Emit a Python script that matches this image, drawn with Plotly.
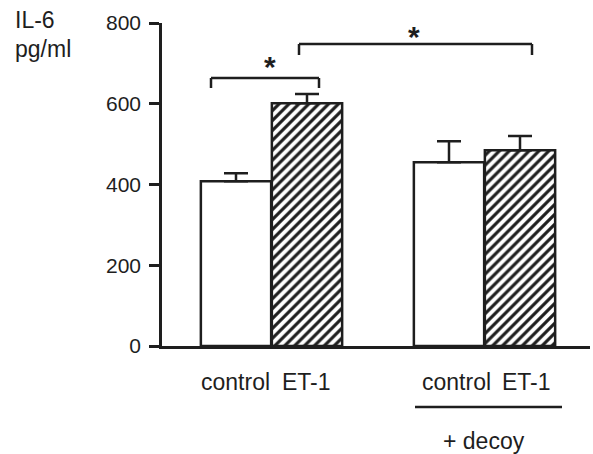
import plotly.graph_objects as go

# ---- data ----
categories = ["control", "ET-1", "control", "ET-1"]
positions = [0, 1, 3, 4]
values = [408, 601, 455, 485]
errors = [20, 23, 52, 35]
hatched = [False, True, False, True]
y_ticks = [0, 200, 400, 600, 800]

W, H = 593, 454
L, R, T, B = 162, 3, 23, 108
PW, PH = W - L - R, H - T - B
FONT = "Liberation Sans, Arial, Helvetica, sans-serif"
INK = "#1e1e1e"

def pxx(x):
    return (x - L) / PW

def pxy(y):
    return (H - B - y) / PH

fig = go.Figure()
for i in range(len(values)):
    fig.add_trace(go.Bar(
        x=[positions[i]], y=[values[i]], width=0.99,
        marker=dict(
            color="white",
            line=dict(color=INK, width=2.5),
            pattern=dict(shape="/" if hatched[i] else "", fgcolor=INK,
                         fgopacity=1, bgcolor="white", size=7, solidity=0.45),
        ),
        error_y=dict(type="data", array=[errors[i]], arrayminus=[0],
                     symmetric=False, color=INK, thickness=2.5, width=12),
        showlegend=False,
    ))

shapes = []
def bracket(x0, x1, ytop, ybot):
    for (a, b, c, d) in [(x0, ytop, x1, ytop), (x0, ytop, x0, ybot), (x1, ytop, x1, ybot)]:
        shapes.append(dict(type="line", xref="paper", yref="paper",
                           x0=pxx(a), y0=pxy(b), x1=pxx(c), y1=pxy(d),
                           line=dict(color=INK, width=2.5)))

bracket(211, 319, 78, 88)
bracket(299, 532, 44, 55)
# underline for + decoy group
shapes.append(dict(type="line", xref="paper", yref="paper",
                   x0=pxx(415), y0=pxy(407), x1=pxx(562), y1=pxy(407),
                   line=dict(color=INK, width=2.5)))

ann = []
def text(s, x, y, size=23, xanchor="center"):
    ann.append(dict(text=s, xref="paper", yref="paper", x=pxx(x), y=pxy(y),
                    xanchor=xanchor, yanchor="middle", showarrow=False,
                    font=dict(family=FONT, size=size, color=INK)))

text("<b>*</b>", 270, 66, size=30)
text("<b>*</b>", 414, 36, size=30)
text("IL-6", 13, 20, xanchor="left")
text("pg/ml", 13, 49, xanchor="left")
label_px = [235, 306, 456, 526]
for c, xp in zip(categories, label_px):
    text(c, xp, 382)
text("+ decoy", 484, 441)

fig.update_layout(
    width=W, height=H,
    margin=dict(l=L, r=R, t=T, b=B, pad=0),
    paper_bgcolor="white", plot_bgcolor="white",
    shapes=shapes, annotations=ann,
    barmode="overlay",
    xaxis=dict(range=[-74 / 71, (590 - 236) / 71], showline=True, linecolor=INK,
               linewidth=2.5, showticklabels=False, ticks="", showgrid=False,
               zeroline=False, fixedrange=True),
    yaxis=dict(range=[0, 800], showline=True, linecolor=INK, linewidth=2.5,
               ticks="outside", ticklen=10, tickwidth=2.5, tickcolor=INK,
               tickvals=y_ticks, showgrid=False, zeroline=False,
               tickfont=dict(family=FONT, size=21, color=INK),
               ticklabelstandoff=4),
)

fig.write_html("out.html")
